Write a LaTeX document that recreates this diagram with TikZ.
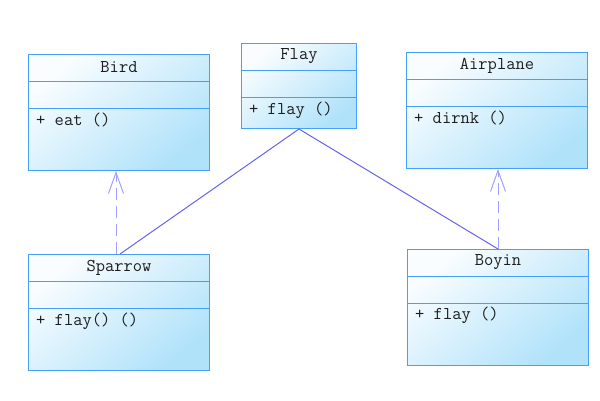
\documentclass[tikz,border=0pt]{standalone}
\usepackage{fontspec}
\usetikzlibrary{arrows.meta,calc}
\definecolor{boxborder}{RGB}{70,160,250}
\definecolor{boxfill}{RGB}{176,226,250}
\definecolor{boxtop}{RGB}{250,253,255}
\definecolor{solidline}{RGB}{100,100,240}
\definecolor{dashline}{RGB}{160,160,255}
\definecolor{txt}{RGB}{30,30,30}
\tikzset{
  classbox/.style={draw=boxborder, line width=1pt, top color=boxtop, bottom color=boxfill, shading angle=40,
    anchor=north west, inner sep=0pt, minimum width=181pt, minimum height=116pt},
  namelbl/.style={font=\ttfamily\fontsize{18}{18}\selectfont, text=txt, inner sep=0pt, anchor=center},
  oplbl/.style={font=\ttfamily\fontsize{18}{18}\selectfont, text=txt, inner sep=0pt, anchor=west},
  divider/.style={draw=boxborder, line width=1pt},
  realize/.style={draw=dashline, line width=1pt, dash pattern=on 12pt off 6pt,
    -{Straight Barb[length=21pt,width=15pt,line width=1pt]}},
  assoc/.style={draw=solidline, line width=1pt}
}
\begin{document}
\begin{tikzpicture}[x=1pt,y=-1pt]
\useasboundingbox (0,0) rectangle (600,400);
% boxes
\node[classbox] (bird) at (28,54) {};
\node[classbox, minimum width=115pt, minimum height=85pt] (flay) at (241,43) {};
\node[classbox] (airplane) at (406,52) {};
\node[classbox] (sparrow) at (28,254) {};
\node[classbox] (boyin) at (407,249) {};
% dividers
\foreach \b in {bird,flay,airplane,sparrow,boyin}{
  \draw[divider] ($(\b.north west)+(0,27)$) -- ($(\b.north east)+(0,27)$);
  \draw[divider] ($(\b.north west)+(0,54)$) -- ($(\b.north east)+(0,54)$);
}
% labels
\node[namelbl] (birdname) at ($(bird.north)+(0,13.5)$) {Bird};
\node[oplbl] (birdop) at ($(bird.north west)+(8,66)$) {+ eat ()};
\node[namelbl] (flayname) at ($(flay.north)+(0,13.5)$) {Flay};
\node[oplbl] (flayop) at ($(flay.north west)+(8,67)$) {+ flay ()};
\node[namelbl] (airname) at ($(airplane.north)+(0,13.5)$) {Airplane};
\node[oplbl] (airop) at ($(airplane.north west)+(8,66)$) {+ dirnk ()};
\node[namelbl] (sparname) at ($(sparrow.north)+(0,13.5)$) {Sparrow};
\node[oplbl] (sparop) at ($(sparrow.north west)+(8,67)$) {+ flay() ()};
\node[namelbl] (boyname) at ($(boyin.north)+(0,13.5)$) {Boyin};
\node[oplbl] (boyop) at ($(boyin.north west)+(8,66)$) {+ flay ()};
% connectors
\draw[realize] ([xshift=-3pt]sparrow.north) -- ([xshift=-3pt]bird.south);
\draw[realize] (boyin.north) -- (boyin.north |- airplane.south);
\draw[assoc] (flay.south) -- ([xshift=1pt]sparrow.north);
\draw[assoc] (flay.south) -- (boyin.north);
\end{tikzpicture}
\end{document}
